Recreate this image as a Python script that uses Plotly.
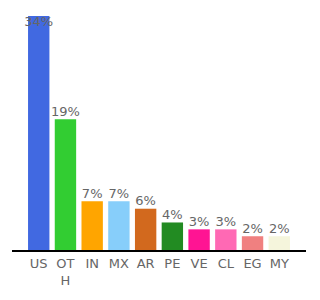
import plotly.graph_objects as go

categories = ["US", "OTH", "IN", "MX", "AR", "PE", "VE", "CL", "EG", "MY"]
tick_labels = ["US", "OT<br>H", "IN", "MX", "AR", "PE", "VE", "CL", "EG", "MY"]
values = [34, 19, 7.1, 7.1, 6.0, 4.0, 3.0, 3.0, 2.0, 2.0]
labels = ["34%", "19%", "7%", "7%", "6%", "4%", "3%", "3%", "2%", "2%"]
colors = ["#4169e1", "#32cd32", "#ffa500", "#87cefa", "#d2691e",
          "#228b22", "#ff1493", "#ff69b4", "#f08080", "#f5f5dc"]

xs = list(range(len(categories)))
text_pos = ["bottom center"] + ["top center"] * (len(categories) - 1)

fig = go.Figure()
fig.add_trace(go.Bar(x=xs, y=values, marker=dict(color=colors, line=dict(width=0)),
                     hoverinfo="skip"))
fig.add_trace(go.Scatter(x=xs, y=values, mode="text", text=labels,
                         textposition=text_pos,
                         textfont=dict(family="DejaVu Sans", size=13, color="#666666"),
                         cliponaxis=False, hoverinfo="skip"))

fig.update_layout(
    width=320, height=300,
    margin=dict(l=12, r=14, t=16, b=48),
    paper_bgcolor="white", plot_bgcolor="white",
    showlegend=False, bargap=0.2,
    font=dict(family="DejaVu Sans", size=13, color="#666666"),
    xaxis=dict(range=[-1, 10], tickmode="array", tickvals=xs, ticktext=tick_labels,
               showgrid=False, zeroline=False, showline=True, linecolor="black",
               linewidth=2, ticks="", tickfont=dict(size=13, color="#666666")),
    yaxis=dict(range=[0, 34], visible=False, showgrid=False, zeroline=False),
)

fig.write_html("out.html")
